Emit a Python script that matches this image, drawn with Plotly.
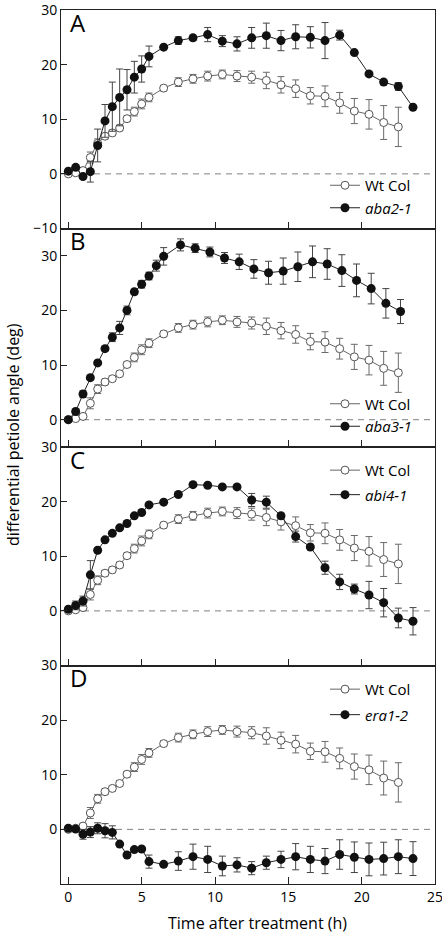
import plotly.graph_objects as go
from plotly.subplots import make_subplots

# ---------------- data ----------------
wt_time = [0, 0.5, 1, 1.5, 2, 2.5, 3, 3.5, 4, 4.5, 5, 5.5,
           6.5, 7.5, 8.5, 9.5, 10.5, 11.5, 12.5, 13.5, 14.5, 15.5, 16.5, 17.5, 18.5, 19.5, 20.5, 21.5, 22.5]
wt_val = [0, 0.2, 0.6, 3.0, 5.6, 6.9, 7.5, 8.4, 10.1, 11.4, 12.8, 14.0,
          15.7, 16.8, 17.4, 17.9, 18.2, 17.9, 17.7, 17.1, 16.3, 15.6, 14.3, 14.2, 13.0, 11.5, 10.9, 9.4, 8.6]
wt_err = [0, 0.3, 0.5, 1.0, 0.8, 0.5, 0.5, 0.5, 0.5, 0.8, 0.9, 0.8,
          0.5, 0.8, 0.8, 0.9, 0.8, 1.0, 1.1, 1.5, 1.5, 1.6, 1.5, 1.9, 1.9, 2.3, 2.7, 3.1, 3.6]

mut_time = [0, 0.5, 1, 1.5, 2, 2.5, 3, 3.5, 4, 4.5, 5, 5.5,
            6.5, 7.5, 8.5, 9.5, 10.5, 11.5, 12.5, 13.5, 14.5, 15.5, 16.5, 17.5, 18.5, 19.5, 20.5, 21.5, 22.5, 23.5]
aba3_time = [0, 0.5, 1, 1.5, 2, 2.5, 3, 3.5, 4, 4.5, 5, 5.5, 6, 6.5,
             7.65, 8.65, 9.65, 10.65, 11.65, 12.65, 13.65, 14.65, 15.65, 16.65, 17.65, 18.65, 19.65, 20.65, 21.65, 22.65]

aba2_val = [0.5, 1.2, -0.5, 0.4, 5.2, 9.7, 12.3, 14.0, 15.4, 17.7, 19.2, 21.5,
            23.2, 24.4, 24.9, 25.5, 24.3, 23.8, 24.9, 25.3, 24.4, 25.1, 25.0, 24.4, 25.4, 22.2, 18.3, 16.8, 16.0, 12.2]
aba2_err = [0.2, 0.2, 0.3, 1.9, 3.0, 3.0, 4.5, 5.2, 3.7, 2.9, 2.4, 1.9,
            0.3, 0.7, 0.5, 1.3, 1.0, 1.3, 1.9, 2.3, 1.85, 2.2, 1.95, 3.3, 0.9, 0.3, 0.3, 0.5, 0.7, 0.3]

aba3_val = [0, 1.5, 4.7, 7.7, 10.4, 13.0, 15.1, 16.8, 20.0, 23.4, 24.8, 26.3, 28.2, 29.9,
            32.0, 31.4, 30.7, 29.6, 28.9, 27.6, 26.9, 27.2, 28.0, 28.9, 28.5, 27.3, 25.5, 24.0, 21.3, 19.8]
aba3_err = [0.2, 0.3, 0.6, 0.4, 0.4, 0.4, 0.8, 1.2, 0.8, 0.5, 0.7, 0.7, 1.0, 1.6,
            1.1, 0.8, 0.9, 1.0, 1.4, 1.7, 2.1, 2.4, 2.7, 2.9, 2.8, 2.9, 3.0, 2.8, 2.7, 2.2]

abi4_val = [0.3, 1.0, 1.8, 6.6, 11.1, 13.0, 14.2, 15.2, 16.0, 17.4, 18.0, 19.4,
            19.9, 21.3, 23.1, 23.0, 22.7, 22.7, 20.3, 19.9, 17.4, 13.6, 11.7, 7.9, 5.3, 4.0, 2.9, 1.5, -1.3, -1.9]
abi4_err = [0.2, 0.8, 0.9, 2.6, 0.4, 0.3, 0.3, 0.3, 0.3, 0.3, 0.3, 0.3,
            0.3, 0.3, 0.3, 0.3, 0.3, 0.3, 1.2, 1.1, 0.5, 1.0, 0.3, 1.2, 1.4, 0.9, 2.5, 2.6, 1.8, 2.5]

era1_val = [0.2, 0.05, -0.9, -0.5, 0.2, -0.25, -0.55, -2.7, -4.7, -3.7, -3.6, -5.9,
            -6.4, -5.8, -5.0, -5.5, -6.7, -6.5, -7.1, -6.1, -5.5, -5.0, -5.5, -5.8, -4.6, -5.1, -5.5, -5.35, -5.0, -5.35]
era1_err = [0.2, 0.3, 0.9, 1.0, 1.0, 1.3, 1.2, 0.3, 0.3, 0.3, 0.3, 1.2,
            0.3, 1.7, 2.3, 2.4, 1.8, 1.3, 1.2, 1.2, 1.5, 2.4, 2.4, 2.3, 2.7, 2.8, 3.0, 3.0, 3.1, 3.1]

panel_letters = ["A", "B", "C", "D"]
mutant_names = ["aba2-1", "aba3-1", "abi4-1", "era1-2"]
y_ranges = [[-10, 30], [-5, 35], [-10, 30], [-10, 30]]
y_ticks = [[-10, 0, 10, 20, 30], [0, 10, 20, 30], [0, 10, 20, 30], [0, 10, 20, 30]]
x_ticks = [0, 5, 10, 15, 20, 25]

mutants = [
    (mut_time, aba2_val, aba2_err),
    (aba3_time, aba3_val, aba3_err),
    (mut_time, abi4_val, abi4_err),
    (mut_time, era1_val, era1_err),
]

# ---------------- figure ----------------
FONT = "Open Sans"
fig = make_subplots(rows=4, cols=1, shared_xaxes=True, vertical_spacing=0)

legend_ids = ["legend", "legend2", "legend3", "legend4"]
for i in range(4):
    r = i + 1
    fig.add_trace(go.Scatter(
        x=wt_time, y=wt_val, mode="lines+markers", name="Wt Col",
        legend=legend_ids[i], legendgroup=f"wt{i}",
        line=dict(color="#666666", width=1),
        marker=dict(symbol="circle", size=8, color="white", line=dict(color="#555555", width=1)),
        error_y=dict(type="data", array=wt_err, color="#6a6a6a", thickness=1, width=3.5),
    ), row=r, col=1)
    t, v, e = mutants[i]
    fig.add_trace(go.Scatter(
        x=t, y=v, mode="lines+markers", name=f"<i>{mutant_names[i]}</i>",
        legend=legend_ids[i], legendgroup=f"mut{i}",
        line=dict(color="#222222", width=1),
        marker=dict(symbol="circle", size=9, color="#111111", line=dict(width=0)),
        error_y=dict(type="data", array=e, color="#444444", thickness=1, width=3.5),
    ), row=r, col=1)
    fig.add_hline(y=0, row=r, col=1, line=dict(color="#808080", width=1, dash="6px,5px"), layer="below")
    fig.update_yaxes(range=y_ranges[i], tickvals=y_ticks[i], ticks="inside", ticklen=6,
                     tickcolor="#222", showline=True, mirror=True, linecolor="#222", linewidth=1,
                     showgrid=False, zeroline=False, automargin=False, ticklabeloverflow="allow",
                     tickfont=dict(size=14, color="black", family=FONT),
                     row=r, col=1)
    fig.update_xaxes(range=[-0.5, 25], tickvals=x_ticks, ticks="inside", ticklen=7,
                     tickcolor="#222", showline=True, mirror=True, linecolor="#222", linewidth=1,
                     showgrid=False, zeroline=False, automargin=False, ticklabeloverflow="allow",
                     tickfont=dict(size=14, color="black", family=FONT),
                     row=r, col=1)
    # panel letter
    fig.add_annotation(text=panel_letters[i], xref=f"x{'' if r == 1 else r} domain",
                       yref=f"y{'' if r == 1 else r} domain", x=0.018, y=1 - 12.5 / 219,
                       xanchor="left", yanchor="middle", showarrow=False,
                       font=dict(size=24, family=FONT, color="black"))

fig.update_xaxes(showticklabels=True, row=4, col=1)

L = 61.0; R = 435.0; T = 10.0; B = 884.0
def px_x(X):
    return (X - L) / (R - L)
def px_y(Y):
    return (B - Y) / (B - T)

legend_centres = [196.5, 415.0, 482.4, 701.9]
legend_gaps = [0, 0, 2, 3]
common_leg = dict(xanchor="left", yanchor="middle", bgcolor="rgba(0,0,0,0)",
                  font=dict(size=15, family=FONT, color="black"), borderwidth=0)
fig.update_layout(
    legend=dict(x=px_x(325), y=px_y(legend_centres[0]), tracegroupgap=legend_gaps[0], **common_leg),
    legend2=dict(x=px_x(325), y=px_y(legend_centres[1]), tracegroupgap=legend_gaps[1], **common_leg),
    legend3=dict(x=px_x(325), y=px_y(legend_centres[2]), tracegroupgap=legend_gaps[2], **common_leg),
    legend4=dict(x=px_x(325), y=px_y(legend_centres[3]), tracegroupgap=legend_gaps[3], **common_leg),
)

fig.add_annotation(text="Time after treatment (h)", xref="paper", yref="paper",
                   x=px_x(257), y=px_y(922.5), xanchor="center", yanchor="middle", showarrow=False,
                   font=dict(size=16, family=FONT, color="black"))
fig.add_annotation(text="differential petiole angle (deg)", xref="paper", yref="paper",
                   x=px_x(13), y=px_y(435), xanchor="center", yanchor="middle", showarrow=False,
                   textangle=-90, font=dict(size=16, family=FONT, color="black"))

fig.update_layout(
    width=442, height=935,
    margin=dict(l=61, r=7, t=10, b=51, autoexpand=False),
    plot_bgcolor="white", paper_bgcolor="white",
    font=dict(family=FONT, color="black"),
    showlegend=True,
)

fig.write_html("out.html", config={"displayModeBar": False},
               post_script="document.body.style.margin='0px';document.body.style.overflow='hidden';")
